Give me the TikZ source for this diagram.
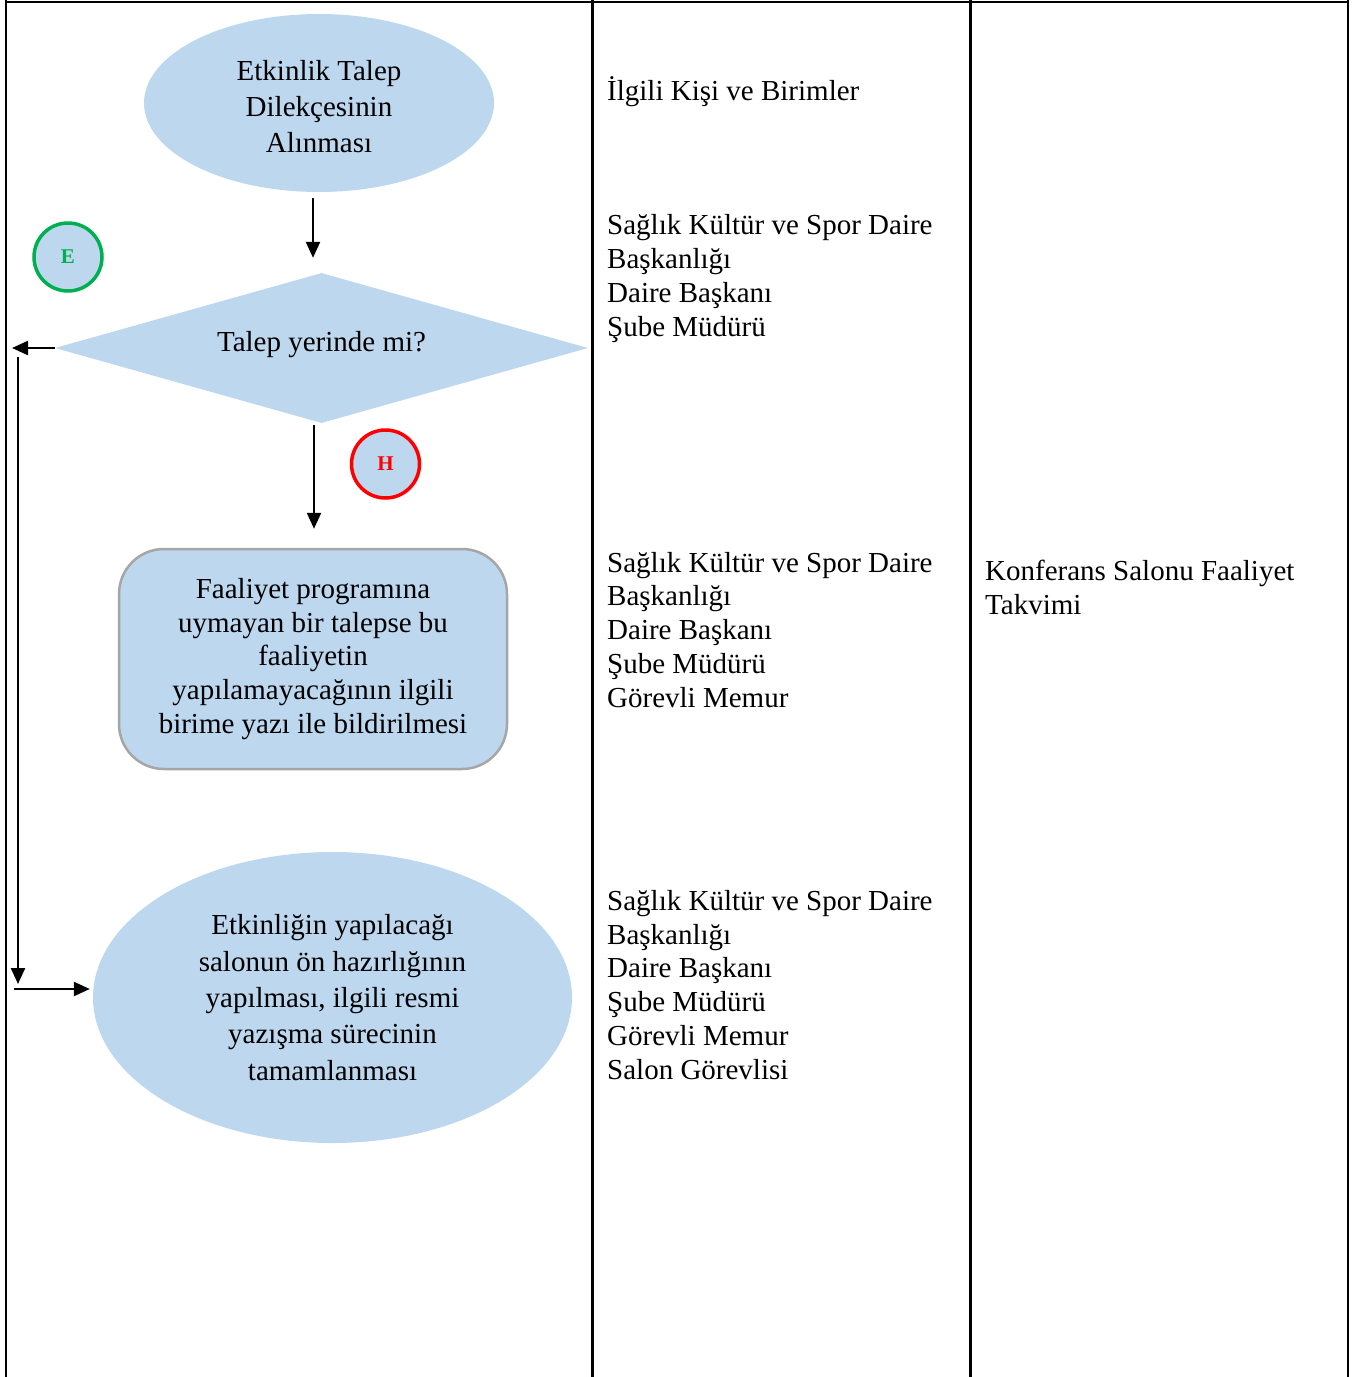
\documentclass[tikz,border=0pt]{standalone}
\usepackage{fontspec}
\setmainfont{Liberation Serif}
\usetikzlibrary{shapes.geometric,arrows.meta}
\definecolor{lblue}{HTML}{BDD7EE}
\definecolor{gborder}{HTML}{A6A6A6}
\definecolor{egreen}{HTML}{00B050}
\tikzset{
  txt/.style={font=\fontsize{29}{33.7}\selectfont},
  ovalbox/.style={ellipse, fill=lblue, inner sep=0pt, align=center, font=\fontsize{29}{36.3}\selectfont},
  arr/.style={line width=2.3pt, -{Triangle[length=16pt,width=14pt]}},
  tline/.style={line width=2.4pt},
  letter/.style={circle, fill=lblue, line width=3.5pt, minimum size=68pt, inner sep=0pt, font=\fontsize{21}{24}\selectfont\bfseries},
  coltext/.style={txt, anchor=base west, align=left, inner sep=0pt}
}
\begin{document}
\begin{tikzpicture}[x=1pt,y=-1pt]
\useasboundingbox (0,0) rectangle (1358,1377);
% table lines
\draw[tline] (5,2) -- (1349,2);
\draw[tline] (6,0) -- (6,1377);
\draw[tline] (592.5,0) -- (592.5,1377);
\draw[tline] (970.5,0) -- (970.5,1377);
\draw[tline] (1348,0) -- (1348,1377);

% shapes
\node[ovalbox, minimum width=350pt, minimum height=178pt] (e1) at (319,103) {\rule{0pt}{27pt}Etkinlik Talep\\Dilekçesinin\\Alınması};
\node[diamond, fill=lblue, inner sep=0pt, minimum width=533pt, minimum height=150pt, aspect=3.55, txt] (dia) at (321.5,348) {Talep yerinde mi?\rule[-13pt]{0pt}{13pt}};
\node[letter, draw=egreen, text=egreen] (E) at (68,257) {E};
\node[letter, draw=red, text=red] (H) at (385.5,464) {H};
\node[rectangle, rounded corners=45pt, fill=lblue, draw=gborder, line width=2.5pt, minimum width=388pt, minimum height=220pt, align=center, inner sep=0pt, txt] (box) at (313,659) {Faaliyet programına\\uymayan bir talepse bu\\faaliyetin\\yapılamayacağının ilgili\\birime yazı ile bildirilmesi};
\node[ovalbox, minimum width=479pt, minimum height=291pt] (e3) at (332.5,997.5) {Etkinliğin yapılacağı\\salonun ön hazırlığının\\yapılması, ilgili resmi\\yazışma sürecinin\\tamamlanması};

% connectors
\draw[arr] ([xshift=-6pt,yshift=-6pt]e1.south) -- ([xshift=-8.5pt,yshift=15pt]dia.north);
\draw[arr] ([xshift=-7.5pt,yshift=-2pt]dia.south) -- ([xshift=1pt,yshift=19pt]box.north);
\coordinate (L1) at (12,348);
\coordinate (L2) at (18,357);
\coordinate (L3) at (18,984);
\coordinate (L4) at (14,989);
\draw[arr] (dia.west) -- (L1);
\draw[arr] (L2) -- (L3);
\draw[arr, shorten >=3pt] (L4) -- (L4 -| e3.west);

% column texts (anchor = baseline of last line)
\node[coltext] (t1) at (607,100) {İlgili Kişi ve Birimler};
\node[coltext] (t2) at (607,336) {Sağlık Kültür ve Spor Daire\\Başkanlığı\\Daire Başkanı\\Şube Müdürü};
\node[coltext] (t3) at (607,707) {Sağlık Kültür ve Spor Daire\\Başkanlığı\\Daire Başkanı\\Şube Müdürü\\Görevli Memur};
\node[coltext] (t4) at (607,1079) {Sağlık Kültür ve Spor Daire\\Başkanlığı\\Daire Başkanı\\Şube Müdürü\\Görevli Memur\\Salon Görevlisi};
\node[coltext] (t5) at (985,614) {Konferans Salonu Faaliyet\\Takvimi};
\end{tikzpicture}
\end{document}
